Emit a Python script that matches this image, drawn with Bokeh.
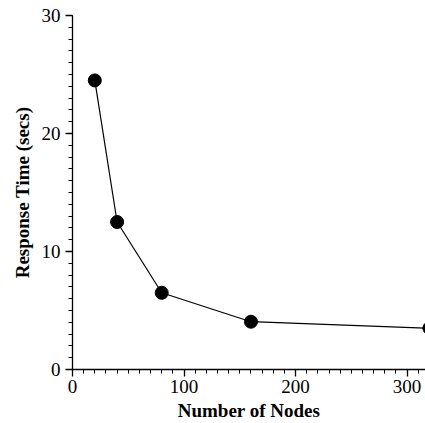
from bokeh.plotting import figure
from bokeh.models import Range1d, SingleIntervalTicker
from bokeh.embed import file_html
from bokeh.resources import INLINE

nodes = [20, 40, 80, 160, 320]
response = [24.5, 12.5, 6.5, 4.05, 3.5]

p = figure(width=425, height=423, output_backend="svg", toolbar_location=None,
           x_range=Range1d(0, 316.5), y_range=Range1d(0, 30),
           min_border_left=72, min_border_right=0, min_border_top=15, min_border_bottom=53)
p.outline_line_color = None
p.xgrid.visible = False
p.ygrid.visible = False

p.line(nodes, response, line_color="black", line_width=1.2)
p.scatter(nodes, response, size=13, fill_color="black", line_color="black")

p.xaxis.ticker = SingleIntervalTicker(interval=100, num_minor_ticks=10)
p.yaxis.ticker = SingleIntervalTicker(interval=10, num_minor_ticks=10)

for ax in (p.xaxis[0], p.yaxis[0]):
    ax.axis_line_color = "black"
    ax.axis_line_width = 1.3
    ax.major_tick_line_color = "black"
    ax.minor_tick_line_color = "black"
    ax.major_tick_line_width = 1.3
    ax.minor_tick_line_width = 1
    ax.major_tick_out = 7
    ax.major_tick_in = 0
    ax.minor_tick_out = 4
    ax.minor_tick_in = 0
    ax.major_label_text_font = "Liberation Serif"
    ax.major_label_text_font_size = "19px"
    ax.major_label_text_color = "black"
    ax.axis_label_text_font = "Liberation Serif"
    ax.axis_label_text_font_size = "19px"
    ax.axis_label_text_font_style = "bold"
    ax.axis_label_text_color = "black"

p.xaxis.axis_label = "Number of Nodes"
p.yaxis.axis_label = "Response Time (secs)"
p.xaxis.axis_label_standoff = 4
p.yaxis.axis_label_standoff = 6
p.xaxis.major_label_standoff = 3
p.yaxis.major_label_standoff = 5

open("out.html", "w").write(file_html(p, INLINE))
